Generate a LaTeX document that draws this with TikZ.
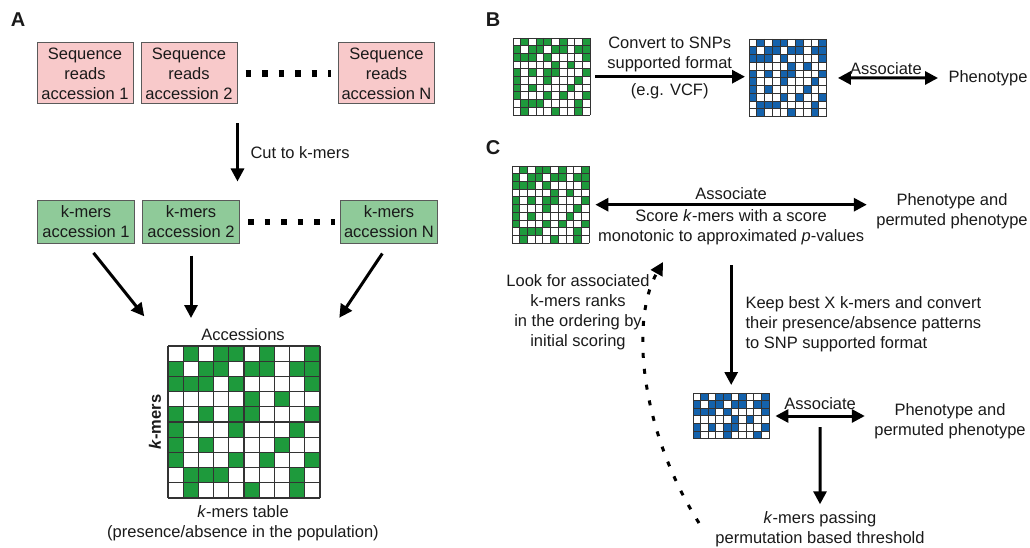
\documentclass[tikz,border=0pt]{standalone}
\usepackage{fontspec}
\setmainfont{Liberation Sans}
\usetikzlibrary{arrows.meta,calc}
\definecolor{kgreen}{HTML}{1E9A3C}
\definecolor{kblue}{HTML}{1462AC}
\definecolor{pinkbox}{HTML}{F8C9CA}
\definecolor{greenbox}{HTML}{8FCA99}
\definecolor{boxline}{HTML}{5A5A5A}
\definecolor{txt}{HTML}{1A1A1A}
\tikzset{
  srbox/.style={draw=boxline, fill=pinkbox, line width=1pt, align=center, minimum width=96pt, minimum height=61pt, inner sep=1pt},
  kmbox/.style={draw=boxline, fill=greenbox, line width=1pt, align=center, minimum width=97pt, minimum height=42pt, inner sep=1pt},
  panel/.style={font=\bfseries\fontsize{20}{24}\selectfont},
  cellline/.style={draw=black!80, line width=0.8pt},
  arr/.style={line width=3pt, -{Triangle[length=13pt,width=13pt]}},
  dblarr/.style={line width=3pt, {Triangle[length=13pt,width=13pt]}-{Triangle[length=13pt,width=13pt]}},
  dotarr/.style={line width=3pt, dash pattern=on 5pt off 11pt, -{Triangle[length=13pt,width=13pt]}},
  dots/.style={line width=6.5pt, dash pattern=on 5.5pt off 11pt}
}
% presence pattern, row/filled columns
\def\kmerrows{1/{2,4,5,7,10},2/{1,3,4,6,7,9,10},3/{1,2,3,5,10},4/{6,8},5/{1,3,5,6,10},6/{1,5,9},7/{1,3,8},8/{1,5,7,10},9/{2,3,4,9},10/{2,6,9}}
% name, x, y, cell, rows, fill
\newcommand{\kmergrid}[6]{%
  \node[inner sep=0pt, anchor=north west, minimum width={10*#4*1pt}, minimum height={#5*#4*1pt}] (#1) at (#2,#3) {};
  \foreach \rw/\cl in \kmerrows {%
    \ifnum\rw>#5\relax\else
      \foreach \cc in \cl {\fill[#6] ({#2+(\cc-1)*#4},{#3+(\rw-1)*#4}) rectangle ++(#4,#4);}%
    \fi}
  \foreach \i in {0,...,10} {\draw[cellline] ({#2+\i*#4},#3) -- ++(0,{#5*#4});}
  \foreach \j in {0,...,#5} {\draw[cellline] (#2,{#3+\j*#4}) -- ++({10*#4},0);}
}
\begin{document}
\begin{tikzpicture}[x=1pt, y=-1pt, every node/.style={font=\fontsize{16.5}{20}\selectfont, text=txt}]
	%%%%% START %%%%%
	\useasboundingbox (0,0) rectangle (1030,548);
	
	\node[panel] (lA) at (18,20) {A};
	\node[panel] (lB) at (493,20) {B};
	\node[panel] (lC) at (493,148) {C};
	
	% A
	\node[srbox] (sr1) at (85,73.5) {Sequence\\reads\\accession 1};
	\node[srbox] (sr2) at (189,73.5) {Sequence\\reads\\accession 2};
	\node[srbox] (srN) at (386.5,73.5) {Sequence\\reads\\accession N};
	\draw[dots, shorten <=8pt, shorten >=7pt] (sr2.east) -- (srN.west);
	
	\node[kmbox] (km1) at (86,222) {k-mers\\accession 1};
	\node[kmbox] (km2) at (191,222) {k-mers\\accession 2};
	\node[kmbox] (kmN) at (389,222) {k-mers\\accession N};
	\draw[dots, shorten <=8pt, shorten >=5pt] (km2.east) -- (kmN.west);
	
	\draw[arr, shorten <=19pt, shorten >=19pt] (sr2.south east) -- (sr2.south east |- km2.north);
	\node[anchor=west] (cut) at (247,153) {Cut to k-mers};
	
	\begin{scope}[cellline/.append style={line width=1.2pt}]
		\kmergrid{tbl}{168}{346}{15.2}{10}{kgreen}
	\end{scope}
	\node (acc) at (243,335) {Accessions};
	\node[align=center] (tbllab) at (243,523) {\textit{k}-mers table\\(presence/absence in the population)};
	\node[rotate=90, font=\bfseries\fontsize{16.5}{20}\selectfont] (kax) at (155,422) {\textit{k}-mers};
	
	\draw[arr, shorten <=12pt, shorten >=38pt] (km1.south) -- (tbl.north west);
	\draw[arr, shorten <=12pt, shorten >=28pt] (km2.south) -- (km2.south |- tbl.north);
	\draw[arr, shorten <=12pt, shorten >=34pt] (kmN.south) -- (tbl.north east);
	
	% B
	\kmergrid{gB1}{513}{38}{7.7}{10}{kgreen}
	\kmergrid{gB2}{749}{39}{7.75}{10}{kblue}
	\node (phB) at (988,78) {Phenotype};
	\draw[arr, shorten <=5pt, shorten >=4pt] (gB1.east) -- (gB1.east -| gB2.west)
		node[midway, align=center, yshift=22pt] (conv) {Convert to SNPs\\supported format}
		node[midway, yshift=-15pt] (vcf) {(e.g. VCF)};
	\draw[dblarr, shorten <=11pt, shorten >=7pt] (gB2.east) -- (phB.west)
		node[midway, yshift=9pt] (ascB) {Associate};
	
	% C
	\kmergrid{gC1}{512}{166}{7.7}{10}{kgreen}
	\node[align=center] (phC1) at (952,211.5) {Phenotype and\\permuted phenotype};
	\draw[dblarr, shorten <=6pt, shorten >=6pt] (gC1.east) -- (gC1.east -| phC1.west)
		node[midway, yshift=11pt] (ascC1) {Associate}
		node[midway, align=center, yshift=-23pt] (score) {Score \textit{k}-mers with a score\\monotonic to approximated \textit{p}-values};
	
	\node[align=left, anchor=west] (keep) at (742,324) {Keep best X k-mers and convert\\their presence/absence patterns\\to SNP supported format};
	
	\kmergrid{gC2}{693}{393}{7.6}{6}{kblue}
	\draw[arr, shorten <=15pt, shorten >=8pt] (score.south -| gC2.north) -- (gC2.north);
	
	\node[align=center] (phC2) at (950,421) {Phenotype and\\permuted phenotype};
	\draw[dblarr, shorten <=6pt, shorten >=6pt] (gC2.east) -- (gC2.east -| phC2.west)
		node[midway, yshift=12pt] (ascC2) {Associate}
		coordinate[midway] (asc);
	
	\node[align=center] (pass) at (820,529.5) {\textit{k}-mers passing\\permutation based threshold};
	\draw[arr, shorten <=11pt, shorten >=4pt] (asc) -- (pass.north);
	
	\coordinate (lookfrom) at (699,523);
	\coordinate (lookto) at (663,262);
	\draw[dotarr] (lookfrom) .. controls (640,430) and (630,320) .. (lookto);
	\node[align=center] (look) at (578,312) {Look for associated\\k-mers ranks\\in the ordering by\\initial scoring};
	
	%%%%% END %%%%%
\end{tikzpicture}
\end{document}
